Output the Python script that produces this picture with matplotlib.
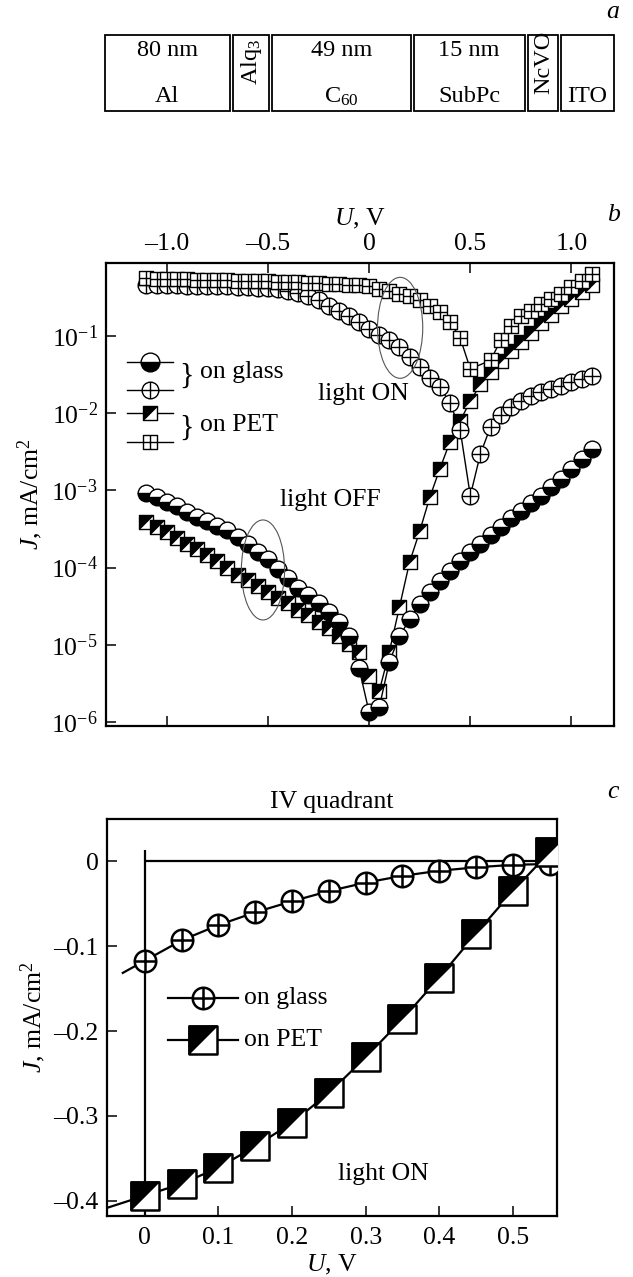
import numpy as np
import matplotlib
matplotlib.use('Agg')
import matplotlib.pyplot as plt
from matplotlib.patches import Ellipse, Rectangle
from matplotlib.path import Path
from matplotlib.ticker import FixedLocator, FixedFormatter, NullLocator

plt.rcParams['font.family'] = ['Liberation Serif', 'DejaVu Serif']
plt.rcParams['mathtext.fontset'] = 'custom'
plt.rcParams['mathtext.rm'] = 'Liberation Serif'
plt.rcParams['mathtext.it'] = 'Liberation Serif:italic'
plt.rcParams['mathtext.bf'] = 'Liberation Serif:bold'

FS = 18.5

# ---------------- panel a: device structure ----------------
layer_names = ['Al', 'Alq$_3$', 'C$_{60}$', 'SubPc', 'NcVO', 'ITO']
layer_thickness = ['80 nm', '', '49 nm', '15 nm', '', '']
layer_vertical = [False, True, False, False, True, False]

# ---------------- panel b: J-U curves (log10 J, mA/cm^2) ----------------
U_b = [-1.10, -1.05, -1.00, -0.95, -0.90, -0.85, -0.80, -0.75, -0.70, -0.65,
       -0.60, -0.55, -0.50, -0.45, -0.40, -0.35, -0.30, -0.25, -0.20, -0.15,
       -0.10, -0.05, 0.00, 0.05, 0.10, 0.15, 0.20, 0.25, 0.30, 0.35,
       0.40, 0.45, 0.50, 0.55, 0.60, 0.65, 0.70, 0.75, 0.80, 0.85,
       0.90, 0.95, 1.00, 1.05, 1.10]

glass_on_log10J = [-0.340, -0.343, -0.346, -0.349, -0.352, -0.355, -0.358, -0.361, -0.364, -0.368,
                   -0.372, -0.377, -0.385, -0.400, -0.420, -0.450, -0.490, -0.540, -0.610, -0.680,
                   -0.750, -0.820, -0.920, -0.990, -1.060, -1.150, -1.270, -1.410, -1.550, -1.670,
                   -1.870, -2.220, -3.070, -2.530, -2.180, -2.030, -1.920, -1.840, -1.780, -1.730,
                   -1.690, -1.650, -1.600, -1.560, -1.520]

U_b_pet_on = [-1.10, -1.05, -1.00, -0.95, -0.90, -0.85, -0.80, -0.75, -0.70, -0.65,
              -0.60, -0.55, -0.50, -0.45, -0.40, -0.35, -0.30, -0.25, -0.20, -0.15,
              -0.10, -0.05, 0.00, 0.05, 0.10, 0.15, 0.20, 0.25, 0.30, 0.35,
              0.40, 0.45, 0.50, 0.60, 0.65, 0.70, 0.75, 0.80, 0.85,
              0.90, 0.95, 1.00, 1.05, 1.10]
pet_on_log10J = [-0.260, -0.262, -0.265, -0.268, -0.271, -0.274, -0.277, -0.280, -0.283, -0.287,
                 -0.290, -0.294, -0.298, -0.302, -0.306, -0.310, -0.315, -0.320, -0.326, -0.333,
                 -0.340, -0.350, -0.360, -0.390, -0.420, -0.460, -0.490, -0.540, -0.610, -0.700,
                 -0.820, -1.030, -1.430, -1.320, -1.060, -0.880, -0.750, -0.680, -0.590,
                 -0.520, -0.460, -0.370, -0.290, -0.200]

glass_off_log10J = [-3.03, -3.09, -3.15, -3.21, -3.28, -3.34, -3.40, -3.46, -3.52, -3.60,
                    -3.69, -3.80, -3.89, -4.02, -4.13, -4.26, -4.36, -4.46, -4.58, -4.70,
                    -4.88, -5.30, -5.87, -5.81, -5.22, -4.89, -4.67, -4.47, -4.32, -4.17,
                    -4.04, -3.92, -3.80, -3.69, -3.58, -3.47, -3.36, -3.27, -3.17, -3.07,
                    -2.96, -2.85, -2.73, -2.60, -2.46]

pet_off_log10J = [-3.41, -3.47, -3.54, -3.62, -3.69, -3.76, -3.84, -3.91, -4.00, -4.09,
                  -4.16, -4.24, -4.31, -4.39, -4.46, -4.55, -4.62, -4.70, -4.78, -4.88,
                  -4.99, -5.09, -5.40, -5.60, -5.09, -4.51, -3.93, -3.53, -3.09, -2.72,
                  -2.37, -2.10, -1.85, -1.63, -1.47, -1.33, -1.20, -1.08, -0.96, -0.84,
                  -0.73, -0.62, -0.52, -0.43, -0.34]

b_xticks = [-1.0, -0.5, 0.0, 0.5, 1.0]
b_xticklabels = ['\u20131.0', '\u20130.5', '0', '0.5', '1.0']
b_yticks = [1e-1, 1e-2, 1e-3, 1e-4, 1e-5, 1e-6]
b_yticklabels = [r'$10^{-1}$', r'$10^{-2}$', r'$10^{-3}$', r'$10^{-4}$', r'$10^{-5}$', r'$10^{-6}$']
b_legend_labels = ['on glass', 'on PET']

# ---------------- panel c: IV quadrant ----------------
U_c = [0.00, 0.05, 0.10, 0.15, 0.20, 0.25, 0.30, 0.35, 0.40, 0.45, 0.50, 0.55]
glass_c = [-0.117, -0.093, -0.075, -0.060, -0.047, -0.035, -0.025, -0.017, -0.011, -0.007, -0.004, -0.003]
pet_c = [-0.394, -0.380, -0.361, -0.336, -0.308, -0.273, -0.231, -0.186, -0.137, -0.085, -0.035, 0.011]
c_xticks = [0.0, 0.1, 0.2, 0.3, 0.4, 0.5]
c_xticklabels = ['0', '0.1', '0.2', '0.3', '0.4', '0.5']
c_yticks = [0.0, -0.1, -0.2, -0.3, -0.4]
c_yticklabels = ['0', '\u20130.1', '\u20130.2', '\u20130.3', '\u20130.4']
c_legend_labels = ['on glass', 'on PET']

# ---------------- marker paths ----------------
MO, LI, CL = Path.MOVETO, Path.LINETO, Path.CLOSEPOLY
_circ = Path.unit_circle()
_cross_v = [(-1, 0), (1, 0), (0, -1), (0, 1)]
_cross_c = [MO, LI, MO, LI]
CIRCLE_PLUS = Path(np.vstack([_circ.vertices, _cross_v]), list(_circ.codes) + _cross_c)
_sq_v = [(-1, -1), (1, -1), (1, 1), (-1, 1), (-1, -1)]
_sq_c = [MO, LI, LI, LI, CL]
SQUARE = Path(_sq_v, _sq_c)
SQUARE_PLUS = Path(_sq_v + _cross_v, _sq_c + _cross_c)
TRI = Path([(-1, -1), (-1, 1), (1, 1), (-1, -1)], [MO, LI, LI, CL])


def draw_markers(ax, x, y, kind, ms, mew, z, **kw):
    for i, (xi, yi) in enumerate(zip(x, y)):
        zz = z + 0.001 * i
        if kind == 'half':
            ax.plot([xi], [yi], ls='none', marker='o', ms=ms, mew=mew, mec='black',
                    mfc='black', mfcalt='white', fillstyle='bottom', zorder=zz, **kw)
        elif kind == 'cplus':
            ax.plot([xi], [yi], ls='none', marker=CIRCLE_PLUS, ms=ms, mew=mew, mec='black',
                    mfc='white', zorder=zz, **kw)
        elif kind == 'splus':
            ax.plot([xi], [yi], ls='none', marker=SQUARE_PLUS, ms=ms, mew=mew, mec='black',
                    mfc='white', zorder=zz, **kw)
        elif kind == 'diag':
            ax.plot([xi], [yi], ls='none', marker=SQUARE, ms=ms, mew=mew, mec='black',
                    mfc='white', zorder=zz, **kw)
            ax.plot([xi], [yi], ls='none', marker=TRI, ms=ms, mew=mew * 0.6, mec='black',
                    mfc='black', zorder=zz + 0.0005, **kw)


fig = plt.figure(figsize=(6.33, 12.77), dpi=100)
W, H = 633.0, 1277.0

# ---------------- panel a ----------------
ax0 = fig.add_axes([0, 0, 1, 1], zorder=0)
ax0.set_xlim(0, W)
ax0.set_ylim(H, 0)
ax0.axis('off')
box_x = [(105, 229.5), (232.5, 268.5), (271.5, 411), (414, 524.5), (527.5, 558), (561, 614)]
box_top, box_bot = 35, 111
for (x0, x1), name, thick, vert in zip(box_x, layer_names, layer_thickness, layer_vertical):
    ax0.add_patch(Rectangle((x0, box_top), x1 - x0, box_bot - box_top, fill=False,
                            lw=1.3, ec='black'))
    xc = 0.5 * (x0 + x1)
    if vert:
        ax0.text(xc + 1, 62, name, rotation=90, ha='center', va='center', fontsize=FS - 1)
    else:
        ax0.text(xc, 97, name, ha='center', va='center', fontsize=FS - 1)
    if thick:
        ax0.text(xc, 50, thick, ha='center', va='center', fontsize=FS - 1)
fig.text(613 / W, 1 - 12 / H, 'a', style='italic', fontsize=FS, ha='center', va='center')
fig.text(613 / W, 1 - 215 / H, 'b', style='italic', fontsize=FS, ha='center', va='center')
fig.text(613 / W, 1 - 792 / H, 'c', style='italic', fontsize=FS, ha='center', va='center')

# ---------------- panel b ----------------
axb = fig.add_axes([106 / W, 1 - 726 / H, 508 / W, 463 / H], zorder=1)
axb.set_yscale('log')
axb.set_xlim(-1.30, 1.21)
axb.set_ylim(10 ** -6.05, 10 ** -0.06)

MS_CIRC_B, MS_SQ_B, MEW_B = 12.0, 10.6, 1.0
series_b = [
    (U_b, pet_off_log10J, 'diag'),
    (U_b, glass_off_log10J, 'half'),
    (U_b, glass_on_log10J, 'cplus'),
    (U_b_pet_on, pet_on_log10J, 'splus'),
]
for k, (ux, ly, kind) in enumerate(series_b):
    jy = [10 ** v for v in ly]
    axb.plot(ux, jy, color='black', lw=1.0, zorder=2 + 2 * k)
    ms = MS_CIRC_B if kind in ('half', 'cplus') else MS_SQ_B
    draw_markers(axb, ux, jy, kind, ms, MEW_B, 2.5 + 2 * k)

axb.xaxis.set_major_locator(FixedLocator(b_xticks))
axb.xaxis.set_major_formatter(FixedFormatter(b_xticklabels))
axb.yaxis.set_major_locator(FixedLocator(b_yticks))
axb.yaxis.set_major_formatter(FixedFormatter(b_yticklabels))
axb.yaxis.set_minor_locator(NullLocator())
axb.xaxis.set_minor_locator(NullLocator())
axb.tick_params(axis='both', direction='in', length=7, width=1.1, labelsize=FS)
axb.tick_params(axis='x', top=True, bottom=True, labeltop=True, labelbottom=False, pad=6)
axb.tick_params(axis='y', left=True, right=False, pad=6)
axb.xaxis.set_label_position('top')
axb.set_xlabel(r'$U$, V', fontsize=FS, labelpad=5)
axb.set_ylabel(r'$J$, mA/cm$^2$', fontsize=FS, labelpad=4)
for s in axb.spines.values():
    s.set_linewidth(1.6)

# legend of panel b (manual)
leg_y = [0.786, 0.726, 0.676, 0.613]
leg_kinds = ['half', 'cplus', 'diag', 'splus']
for yy, kind in zip(leg_y, leg_kinds):
    axb.plot([0.041, 0.132], [yy, yy], color='black', lw=1.0, transform=axb.transAxes, zorder=20)
    ms = MS_CIRC_B if kind in ('half', 'cplus') else MS_SQ_B
    if kind == 'half':
        ms = 13.5
    draw_markers(axb, [0.087], [yy], kind, ms, MEW_B, 21, transform=axb.transAxes)
axb.text(0.158, 0.756, '}', transform=axb.transAxes, fontsize=FS + 3, ha='center', va='center')
axb.text(0.158, 0.645, '}', transform=axb.transAxes, fontsize=FS + 3, ha='center', va='center')
axb.text(0.185, 0.765, b_legend_labels[0], transform=axb.transAxes, fontsize=FS, ha='left', va='center')
axb.text(0.185, 0.650, b_legend_labels[1], transform=axb.transAxes, fontsize=FS, ha='left', va='center')

axb.text(-0.254, 10 ** -1.75, 'light ON', fontsize=FS, ha='left', va='center', zorder=30)
axb.text(-0.442, 10 ** -3.12, 'light OFF', fontsize=FS, ha='left', va='center', zorder=30)
axb.add_patch(Ellipse((0.309, 0.337), 0.085, 0.216, transform=axb.transAxes, fill=False,
                      ec='#555555', lw=0.8, zorder=40))
axb.add_patch(Ellipse((0.579, 0.860), 0.089, 0.218, transform=axb.transAxes, fill=False,
                      ec='#555555', lw=0.8, zorder=40))

# ---------------- panel c ----------------
axc = fig.add_axes([107 / W, 1 - 1216 / H, 450 / W, 397 / H], zorder=1)
axc.set_xlim(-0.0515, 0.56)
axc.set_ylim(-0.418, 0.05)
axc.hlines(0, 0, 0.562, color='black', lw=1.6, zorder=1, clip_on=False)
axc.vlines(0, -0.418, 0.013, color='black', lw=1.6, zorder=1)

xl = axc.get_xlim()[0]
# fitted lines through the points, extended to the left as in the original
g_ext = glass_c[0] - (glass_c[1] - glass_c[0]) / (U_c[1] - U_c[0]) * (U_c[0] + 0.03)
p_ext = pet_c[0] - (pet_c[1] - pet_c[0]) / (U_c[1] - U_c[0]) * (U_c[0] - xl)
axc.plot([-0.03] + U_c, [g_ext] + glass_c, color='black', lw=1.6, zorder=2)
axc.plot([xl] + U_c, [p_ext] + pet_c, color='black', lw=1.6, zorder=4)
MS_CIRC_C, MS_SQ_C, MEW_C = 15.5, 20.0, 1.8
draw_markers(axc, U_c, glass_c, 'cplus', MS_CIRC_C, MEW_C, 3)
draw_markers(axc, U_c, pet_c, 'diag', MS_SQ_C, MEW_C, 5)

axc.xaxis.set_major_locator(FixedLocator(c_xticks))
axc.xaxis.set_major_formatter(FixedFormatter(c_xticklabels))
axc.yaxis.set_major_locator(FixedLocator(c_yticks))
axc.yaxis.set_major_formatter(FixedFormatter(c_yticklabels))
axc.tick_params(axis='both', direction='in', length=7, width=1.1, labelsize=FS)
axc.tick_params(axis='x', pad=8)
axc.tick_params(axis='y', pad=6)
axc.set_xlabel(r'$U$, V', fontsize=FS, labelpad=3)
axc.set_ylabel(r'$J$, mA/cm$^2$', fontsize=FS, labelpad=4)
for s in axc.spines.values():
    s.set_linewidth(1.6)

# legend of panel c (manual)
for yy, kind, ms, lab in [(0.549, 'cplus', MS_CIRC_C, c_legend_labels[0]),
                          (0.443, 'diag', MS_SQ_C, c_legend_labels[1])]:
    axc.plot([0.136, 0.291], [yy, yy], color='black', lw=1.6, transform=axc.transAxes, zorder=20)
    draw_markers(axc, [0.213], [yy], kind, ms, MEW_C, 21, transform=axc.transAxes)
    axc.text(0.304, yy, lab, transform=axc.transAxes, fontsize=FS, ha='left', va='center')

axc.text(0.324, -0.368, 'light ON', fontsize=FS, ha='center', va='center')
axc.set_title('IV quadrant', fontsize=FS, pad=8)

fig.savefig('out.png', dpi=100)
